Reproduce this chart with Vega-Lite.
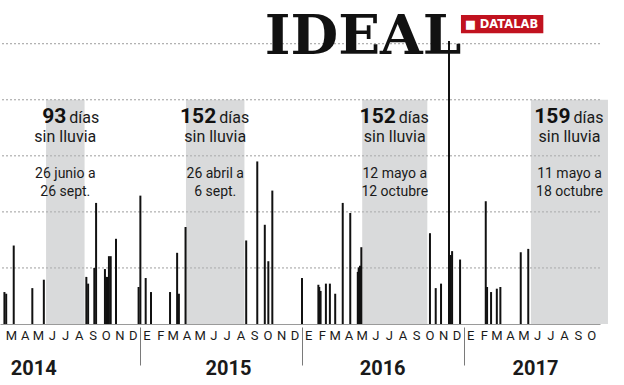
{
  "$schema": "https://vega.github.io/schema/vega-lite/v6.json",
  "width": 600,
  "height": 324,
  "autosize": {"type": "none"},
  "padding": {"left": 0, "top": 0, "right": 24, "bottom": 61},
  "background": "white",
  "config": {"view": {"stroke": null}, "font": "Roboto"},
  "datasets": {
    "grid": [
      {"level": 10}, {"level": 20}, {"level": 30}, {"level": 40}, {"level": 50}
    ],
    "rain": [
      {"date": "2014-03-01", "mm": 5.7},
      {"date": "2014-03-05", "mm": 5.4},
      {"date": "2014-03-22", "mm": 14.0},
      {"date": "2014-05-03", "mm": 6.4},
      {"date": "2014-05-29", "mm": 7.9},
      {"date": "2014-09-02", "mm": 8.4},
      {"date": "2014-09-06", "mm": 7.2},
      {"date": "2014-09-20", "mm": 10.0},
      {"date": "2014-09-24", "mm": 21.6},
      {"date": "2014-10-14", "mm": 9.8},
      {"date": "2014-10-17", "mm": 8.4},
      {"date": "2014-10-20", "mm": 8.4},
      {"date": "2014-10-23", "mm": 12.1},
      {"date": "2014-10-27", "mm": 12.1},
      {"date": "2014-11-08", "mm": 15.2},
      {"date": "2014-12-29", "mm": 6.6},
      {"date": "2015-01-02", "mm": 22.9},
      {"date": "2015-01-14", "mm": 8.2},
      {"date": "2015-01-26", "mm": 5.7},
      {"date": "2015-03-10", "mm": 5.7},
      {"date": "2015-03-26", "mm": 12.7},
      {"date": "2015-03-30", "mm": 5.4},
      {"date": "2015-04-14", "mm": 17.3},
      {"date": "2015-08-29", "mm": 14.9},
      {"date": "2015-09-23", "mm": 29.0},
      {"date": "2015-10-10", "mm": 17.7},
      {"date": "2015-10-18", "mm": 11.2},
      {"date": "2015-10-27", "mm": 23.8},
      {"date": "2016-01-02", "mm": 8.2},
      {"date": "2016-02-08", "mm": 7.0},
      {"date": "2016-02-10", "mm": 6.6},
      {"date": "2016-02-13", "mm": 5.9},
      {"date": "2016-02-25", "mm": 7.2},
      {"date": "2016-03-05", "mm": 7.2},
      {"date": "2016-03-17", "mm": 5.4},
      {"date": "2016-04-03", "mm": 21.6},
      {"date": "2016-04-20", "mm": 19.8},
      {"date": "2016-05-07", "mm": 9.3},
      {"date": "2016-05-09", "mm": 10.1},
      {"date": "2016-05-12", "mm": 10.4},
      {"date": "2016-05-15", "mm": 13.7},
      {"date": "2016-10-17", "mm": 16.2},
      {"date": "2016-10-30", "mm": 6.4},
      {"date": "2016-11-11", "mm": 7.2},
      {"date": "2016-11-29", "mm": 50.5},
      {"date": "2016-12-01", "mm": 12.3},
      {"date": "2016-12-03", "mm": 12.3},
      {"date": "2016-12-06", "mm": 13.0},
      {"date": "2016-12-24", "mm": 11.5},
      {"date": "2017-02-20", "mm": 21.9},
      {"date": "2017-02-23", "mm": 6.6},
      {"date": "2017-03-04", "mm": 5.7},
      {"date": "2017-03-17", "mm": 6.3},
      {"date": "2017-03-25", "mm": 6.6},
      {"date": "2017-05-10", "mm": 12.8},
      {"date": "2017-05-27", "mm": 13.4}
    ],
    "periods": [
      {"start": "2014-06-03", "end": "2014-08-29", "top": 40, "days": "93", "from": "26 junio a", "to": "26 sept."},
      {"start": "2015-04-15", "end": "2015-08-25", "top": 40, "days": "152", "from": "26 abril a", "to": "6 sept."},
      {"start": "2016-05-17", "end": "2016-10-11", "top": 40, "days": "152", "from": "12 mayo a", "to": "12 octubre"},
      {"start": "2017-06-02", "end": "2017-11-23", "top": 40, "days": "159", "from": "11 mayo a", "to": "18 octubre"}
    ]
  },
  "resolve": {"axis": {"x": "independent"}},
  "layer": [
    {
      "data": {"name": "grid"},
      "mark": {"type": "rule", "strokeDash": [2, 2], "strokeWidth": 1, "color": "#9d9d9d"},
      "encoding": {
        "y": {
          "field": "level", "type": "quantitative",
          "scale": {"domain": [0, 57.8], "nice": false, "zero": true},
          "axis": null
        }
      }
    },
    {
      "data": {"name": "periods"},
      "mark": {"type": "rect", "fill": "#b3b5b7", "opacity": 0.5},
      "encoding": {
        "x": {
          "field": "start", "type": "temporal",
          "scale": {"type": "utc", "domain": [{"year": 2014, "month": 2, "date": 19, "utc": true}, {"year": 2017, "month": 11, "date": 5, "utc": true}]},
          "axis": {
            "orient": "bottom",
            "title": null, "grid": false, "ticks": false, "tickSize": 0,
            "tickCount": {"interval": "month", "step": 1},
            "labelExpr": "datum.value >= utc(2017,10,1) ? '' : ['E','F','M','A','M','J','J','A','S','O','N','D'][utcmonth(datum.value)]",
            "labelOffset": 6.6, "labelAlign": "center", "labelBaseline": "alphabetic", "labelPadding": 15,
            "labelOverlap": false, "labelBound": false, "labelFlush": false,
            "labelFont": "Roboto", "labelFontSize": 13, "labelColor": "#1a1a1a",
            "domainColor": "#9a9a9a", "domainWidth": 1
          }
        },
        "x2": {"field": "end"},
        "y": {"field": "top", "type": "quantitative", "axis": null},
        "y2": {"datum": 0}
      }
    },
    {
      "data": {"name": "rain"},
      "mark": {"type": "rule", "strokeWidth": 2, "color": "#111111"},
      "encoding": {
        "x": {
          "field": "date", "type": "temporal", "scale": {"type": "utc"},
          "axis": {
            "orient": "bottom",
            "title": null, "grid": false, "ticks": false, "tickSize": 0, "domain": false,
            "values": [
              {"year": 2014, "month": 5, "date": 5, "utc": true},
              {"year": 2015, "month": 7, "date": 19, "utc": true},
              {"year": 2016, "month": 7, "date": 1, "utc": true},
              {"year": 2017, "month": 6, "date": 11, "utc": true}
            ],
            "labelExpr": "utcFormat(datum.value, '%Y')",
            "labelAlign": "center", "labelBaseline": "alphabetic", "labelPadding": 50,
            "labelOverlap": false, "labelBound": false, "labelFlush": false,
            "labelFont": "Roboto", "labelFontSize": 20, "labelFontWeight": "bold", "labelColor": "#1a1a1a"
          }
        },
        "y": {"field": "mm", "type": "quantitative", "axis": null},
        "y2": {"datum": 0}
      }
    },
    {
      "data": {"name": "periods"},
      "transform": [{"calculate": "(time(datum.start) + time(datum.end)) / 2", "as": "mid"}],
      "mark": {"type": "text", "align": "right", "baseline": "alphabetic", "dx": 1, "dy": 23.5, "font": "Roboto", "fontSize": 21, "fontWeight": "bold", "color": "#111111"},
      "encoding": {
        "x": {
          "field": "mid", "type": "temporal", "scale": {"type": "utc"},
          "axis": {
            "orient": "bottom",
            "title": null, "grid": false, "labels": true, "labelExpr": "''", "domain": false, "ticks": true,
            "values": [
              {"year": 2015, "month": 1, "date": 1, "utc": true},
              {"year": 2016, "month": 1, "date": 1, "utc": true},
              {"year": 2017, "month": 1, "date": 1, "utc": true}
            ],
            "tickSize": 38, "tickColor": "#7a7a7a", "tickWidth": 1, "tickOpacity": 1, "offset": 3
          }
        },
        "y": {"field": "top", "type": "quantitative", "axis": null},
        "text": {"field": "days"}
      }
    },
    {
      "data": {"name": "periods"},
      "transform": [{"calculate": "(time(datum.start) + time(datum.end)) / 2", "as": "mid"}],
      "mark": {"type": "text", "align": "left", "baseline": "alphabetic", "dx": 4, "dy": 23.5, "font": "Roboto", "fontSize": 16, "color": "#1a1a1a"},
      "encoding": {
        "x": {"field": "mid", "type": "temporal", "axis": null},
        "y": {"field": "top", "type": "quantitative", "axis": null},
        "text": {"value": "días"}
      }
    },
    {
      "data": {"name": "periods"},
      "transform": [{"calculate": "(time(datum.start) + time(datum.end)) / 2", "as": "mid"}],
      "mark": {"type": "text", "align": "center", "baseline": "alphabetic", "dy": 42, "font": "Roboto", "fontSize": 16, "color": "#1a1a1a"},
      "encoding": {
        "x": {"field": "mid", "type": "temporal", "axis": null},
        "y": {"field": "top", "type": "quantitative", "axis": null},
        "text": {"value": "sin lluvia"}
      }
    },
    {
      "data": {"name": "periods"},
      "transform": [{"calculate": "(time(datum.start) + time(datum.end)) / 2", "as": "mid"}],
      "mark": {"type": "text", "align": "center", "baseline": "alphabetic", "dy": 78, "font": "Roboto", "fontSize": 14, "color": "#1a1a1a"},
      "encoding": {
        "x": {"field": "mid", "type": "temporal", "axis": null},
        "y": {"field": "top", "type": "quantitative", "axis": null},
        "text": {"field": "from"}
      }
    },
    {
      "data": {"name": "periods"},
      "transform": [{"calculate": "(time(datum.start) + time(datum.end)) / 2", "as": "mid"}],
      "mark": {"type": "text", "align": "center", "baseline": "alphabetic", "dy": 96, "font": "Roboto", "fontSize": 14, "color": "#1a1a1a"},
      "encoding": {
        "x": {"field": "mid", "type": "temporal", "axis": null},
        "y": {"field": "top", "type": "quantitative", "axis": null},
        "text": {"field": "to"}
      }
    },
    {
      "data": {"values": [{}]},
      "mark": {"type": "rect", "fill": "#c1121f"},
      "encoding": {
        "x": {"datum": {"year": 2016, "month": 12, "date": 26, "utc": true}, "type": "temporal", "axis": null},
        "x2": {"datum": {"year": 2017, "month": 6, "date": 30, "utc": true}},
        "y": {"datum": 55.12, "type": "quantitative", "axis": null},
        "y2": {"datum": 51.86}
      }
    },
    {
      "data": {"values": [{}]},
      "mark": {"type": "text", "align": "left", "baseline": "alphabetic", "font": "DejaVu Sans", "fontSize": 11.5, "fontWeight": "bold", "color": "#ffffff", "text": "■ DATALAB"},
      "encoding": {
        "x": {"datum": {"year": 2017, "month": 1, "date": 4, "utc": true}, "type": "temporal", "axis": null},
        "y": {"datum": 52.72, "type": "quantitative", "axis": null}
      }
    },
    {
      "data": {"values": [{}]},
      "mark": {"type": "text", "align": "center", "baseline": "alphabetic", "font": "DejaVu Serif", "fontSize": 55, "fontWeight": "bold", "color": "#111111", "text": "IDEAL"},
      "encoding": {
        "x": {"datum": {"year": 2016, "month": 5, "date": 19, "utc": true}, "type": "temporal", "axis": null},
        "y": {"datum": 48.11, "type": "quantitative", "axis": null}
      }
    }
  ]
}
